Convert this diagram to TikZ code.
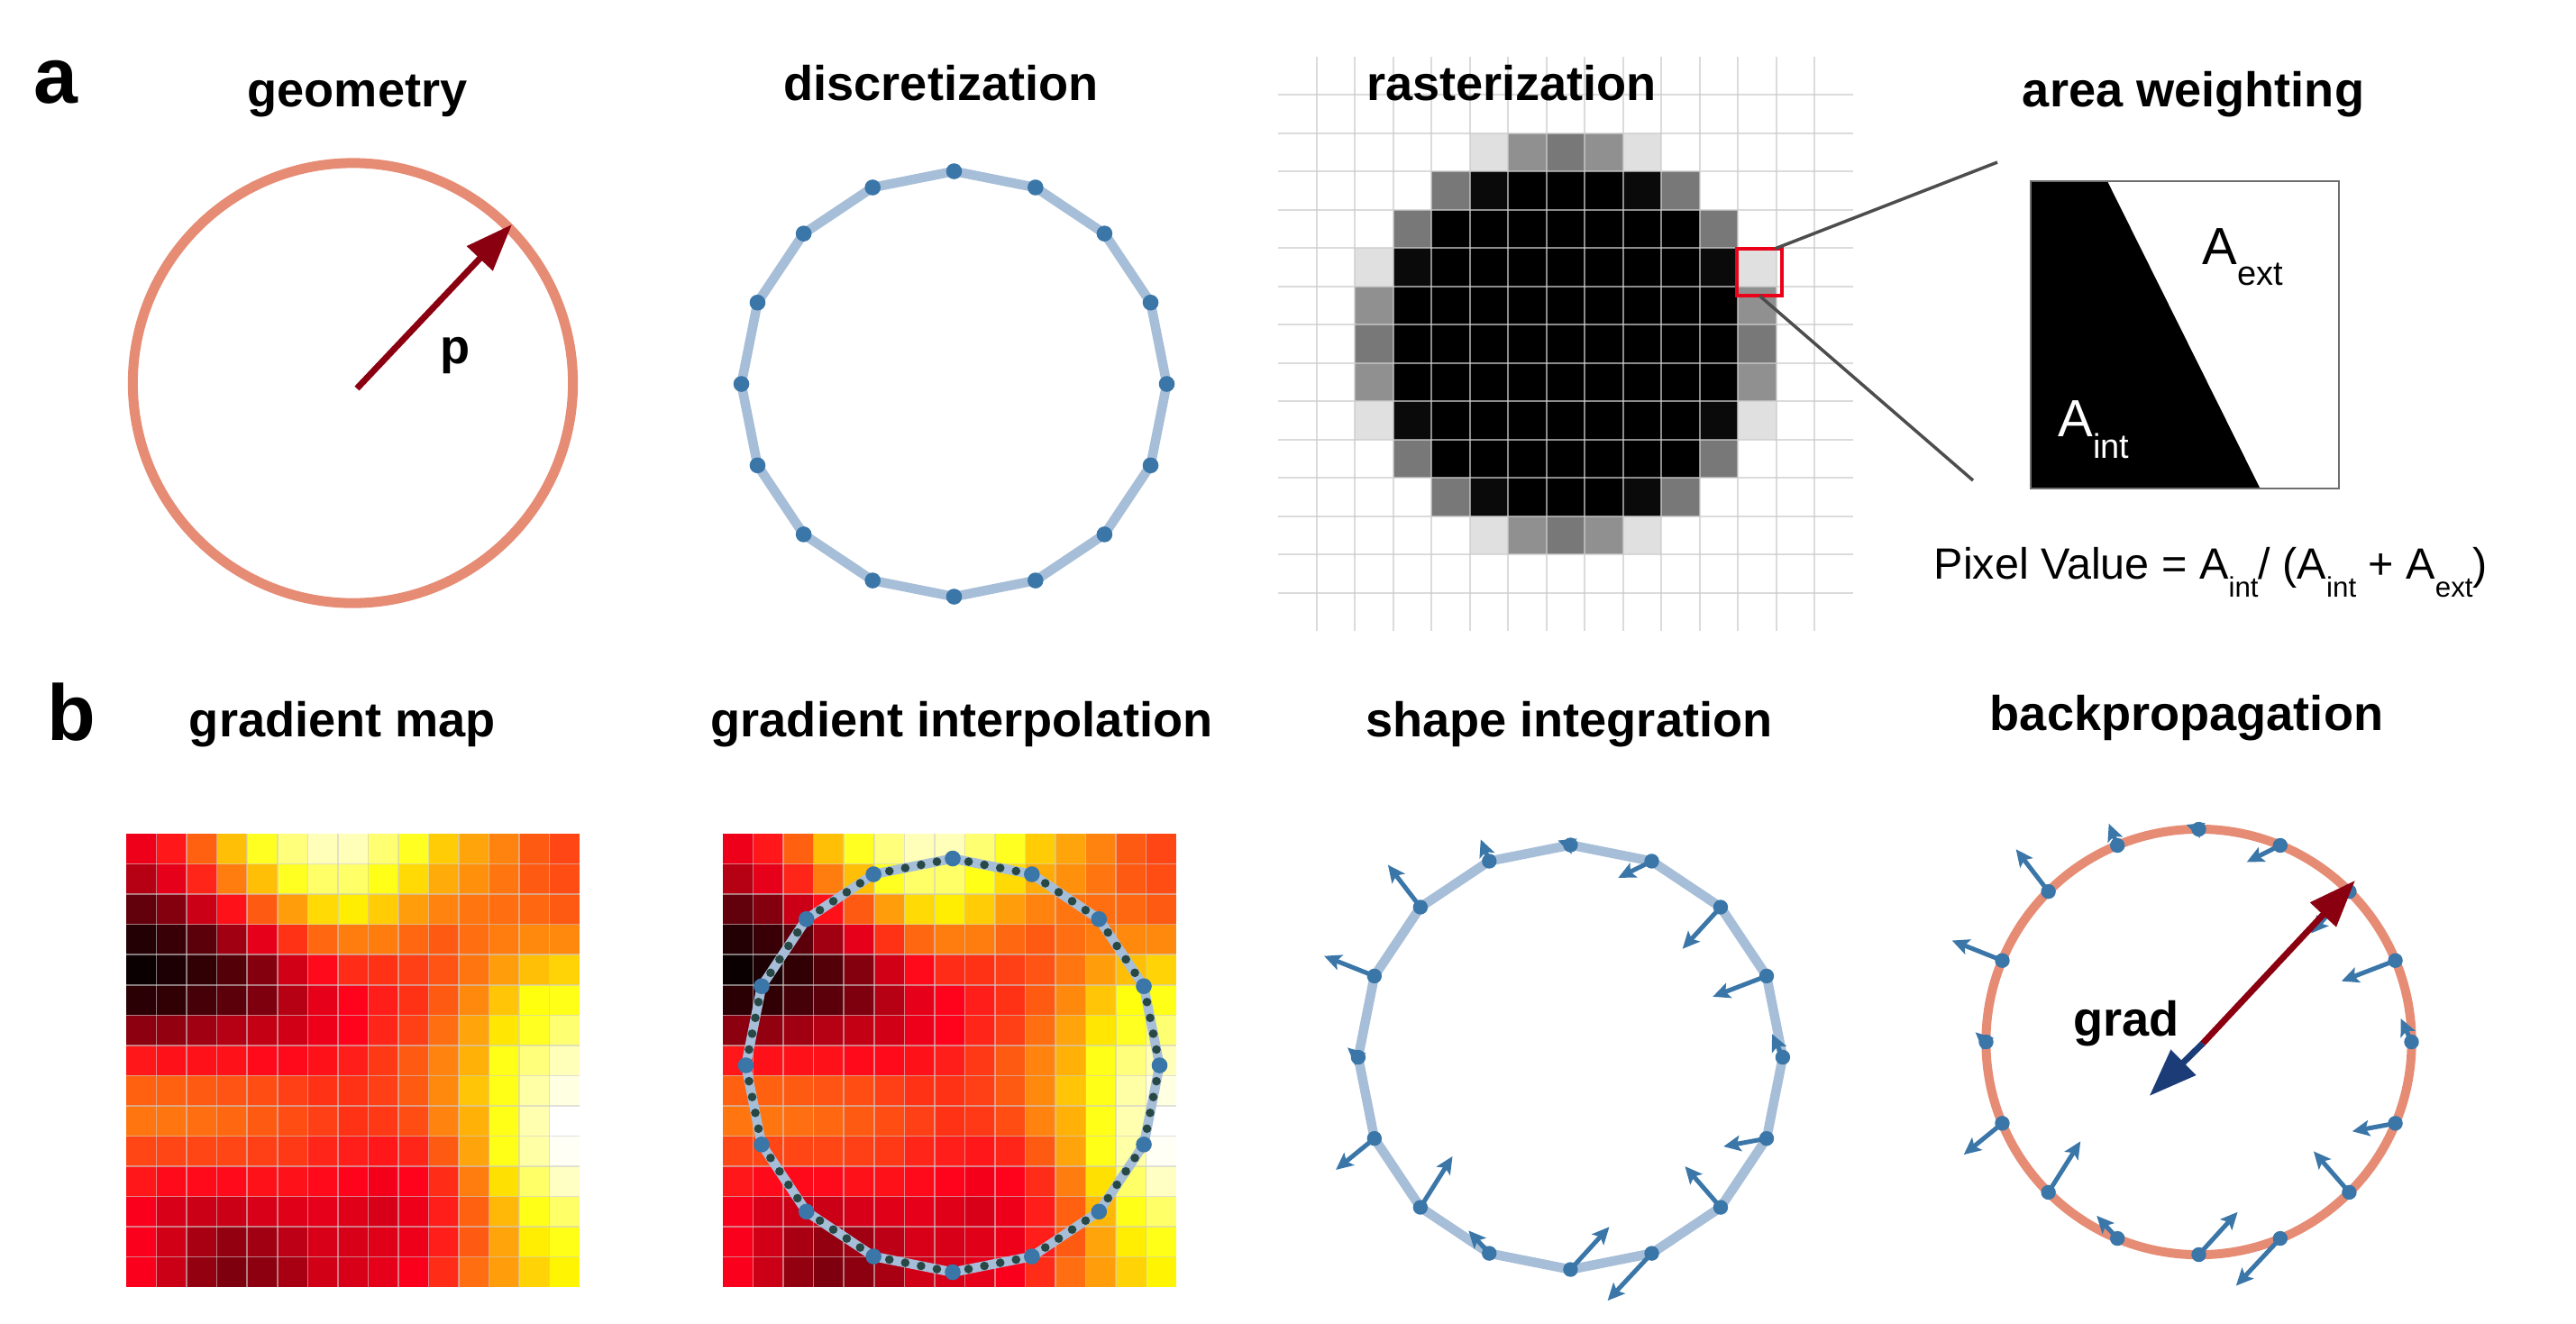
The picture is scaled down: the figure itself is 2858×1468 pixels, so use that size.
\documentclass[tikz,border=0pt]{standalone}
\usepackage{fontspec}
\setmainfont{Liberation Sans}
\usetikzlibrary{arrows.meta,calc}
\definecolor{salmon}{RGB}{230,140,117}
\definecolor{darkredc}{RGB}{139,0,16}
\definecolor{polyblue}{RGB}{167,190,216}
\definecolor{dotblue}{RGB}{58,118,168}
\definecolor{darkdot}{RGB}{40,72,70}
\definecolor{navyc}{RGB}{28,60,120}
\definecolor{zoomgray}{RGB}{77,77,77}
\definecolor{boxred}{RGB}{235,0,25}
\definecolor{gridc}{RGB}{204,204,204}
\definecolor{hmgridc}{RGB}{205,205,205}

\def\heatvals{%
0.34,0.40,0.51,0.65,0.78,0.87,0.93,0.93,0.86,0.78,0.67,0.61,0.56,0.50,0.47,%
0.26,0.33,0.42,0.55,0.65,0.78,0.85,0.85,0.77,0.69,0.62,0.58,0.54,0.50,0.48,%
0.14,0.19,0.29,0.39,0.50,0.60,0.69,0.72,0.67,0.60,0.56,0.54,0.53,0.52,0.50,%
0.05,0.08,0.13,0.23,0.33,0.44,0.52,0.55,0.55,0.52,0.50,0.53,0.55,0.57,0.57,%
0.015,0.04,0.07,0.12,0.19,0.30,0.38,0.43,0.44,0.46,0.49,0.54,0.60,0.65,0.68,%
0.06,0.07,0.10,0.13,0.18,0.26,0.33,0.37,0.41,0.44,0.50,0.57,0.66,0.76,0.77,%
0.20,0.21,0.23,0.26,0.28,0.30,0.34,0.37,0.42,0.46,0.53,0.61,0.71,0.78,0.86,%
0.40,0.39,0.39,0.39,0.38,0.38,0.39,0.41,0.45,0.50,0.56,0.63,0.77,0.87,0.93,%
0.51,0.51,0.50,0.49,0.48,0.46,0.44,0.44,0.46,0.50,0.57,0.66,0.77,0.91,0.97,%
0.54,0.54,0.53,0.52,0.50,0.48,0.46,0.44,0.45,0.48,0.56,0.63,0.77,0.92,1.00,%
0.47,0.47,0.47,0.47,0.46,0.45,0.42,0.41,0.40,0.42,0.50,0.61,0.77,0.91,0.99,%
0.40,0.38,0.38,0.38,0.39,0.39,0.38,0.37,0.35,0.37,0.43,0.55,0.70,0.85,0.94,%
0.36,0.31,0.29,0.29,0.31,0.32,0.33,0.32,0.31,0.34,0.41,0.51,0.64,0.77,0.85,%
0.36,0.30,0.24,0.21,0.23,0.27,0.31,0.31,0.32,0.34,0.41,0.50,0.61,0.72,0.77,%
0.36,0.29,0.21,0.18,0.20,0.24,0.30,0.31,0.33,0.36,0.43,0.53,0.60,0.68,0.73}

\def\arrvecs{-14/-5,-9.5/-24.1,-36/-46.9,-55.8/-22.2,-11.9/-10.7,-42.8/34.8,35.6/-56.6,-23/-25.2,43.1/-47.3,-49/52.5,-39.5/-45.5,-47.8/8.9,-11.9/-25.9,-59.7/22.9,-42.3/46.3,-37.2/18.5}

\newcommand\drawheatmap[2]{%
  \foreach \v [count=\i from 0] in \heatvals {%
    \pgfmathtruncatemacro\hmRow{floor(\i/15)}%
    \pgfmathtruncatemacro\hmCol{\i-15*\hmRow}%
    \pgfmathsetmacro\hmR{min(1,\v/0.365)}%
    \pgfmathsetmacro\hmG{max(0,min(1,(\v-0.365)/0.381))}%
    \pgfmathsetmacro\hmB{max(max(0,min(1,(\v-0.746)/0.254)),0.11*\hmR*(1-\hmG))}%
    \definecolor{hmc}{rgb}{\hmR,\hmG,\hmB}%
    \fill[hmc] ({#1+\hmCol*33.55},{#2+\hmRow*33.55}) rectangle ++(33.6,33.6);
  }
  \foreach \k in {1,...,14} {
    \draw[hmgrid] ({#1+\k*33.55},#2) -- ++(0,503.3);
    \draw[hmgrid] (#1,{#2+\k*33.55}) -- ++(503.3,0);
  }
}
\newcommand\fsub[1]{\raisebox{-0.2cm}{\fontsize{8.9pt}{10pt}\selectfont #1}}

\begin{document}
\begin{tikzpicture}[x=0.01cm,y=-0.01cm,
  title/.style={font=\fontsize{15.4pt}{18pt}\selectfont\bfseries, inner sep=0pt, anchor=base},
  plabel/.style={font=\fontsize{25pt}{30pt}\selectfont\bfseries, inner sep=0pt, anchor=base west},
  polyline/.style={draw=polyblue, line width=0.105cm, line join=round},
  ring/.style={draw=salmon},
  hmgrid/.style={draw=hmgridc, draw opacity=0.6, line width=0.015cm},
  rastergrid/.style={draw=gridc, draw opacity=0.69, line width=0.02cm},
  zoomline/.style={draw=zoomgray, line width=0.035cm},
  garrow/.style={draw=dotblue, line width=0.05cm, -{Stealth[length=0.19cm,width=0.175cm,inset=0.04cm]}},
  bigred/.style={draw=darkredc, line width=0.07cm, -{Triangle[length=0.52cm,width=0.38cm]}},
  bigblue/.style={draw=navyc, line width=0.07cm, -{Triangle[length=0.53cm,width=0.38cm]}}
]
\useasboundingbox (0,0) rectangle (2858,1468);
\fill[white] (0,0) rectangle (2858,1468);

% ---------------- panel a: geometry
\node[plabel] (la) at (37,114) {a};
\node[title] (tgeo) at (396.5,118) {geometry};
\coordinate (gc) at (391.5,425);
\draw[ring, line width=0.11cm] (gc) circle (2.44cm);
\coordinate (pO) at (396,431);
\coordinate (pT) at (568,249);
\draw[bigred] (pO) -- (pT);
\node[title] (plab) at (505,403) {p};

% ---------------- discretization
\node[title] (tdisc) at (1044,111) {discretization};
\foreach \k in {0,...,15}
  \coordinate (d\k) at ({1058.5+236*sin(22.5*\k)},{426-236*cos(22.5*\k)});
\draw[polyline] (d0) \foreach \k in {1,...,15}{ -- (d\k)} -- cycle;
\foreach \k in {0,...,15} \fill[dotblue] (d\k) circle (0.088cm);

% ---------------- rasterization
\fill[black] (1545.5,275) rectangle (1928,487.5);
\fill[black] (1588,232.5) rectangle (1885.5,530);
\fill[black] (1630.5,190) rectangle (1843,572.5);
\foreach \r/\c/\g in {2/5/.878,2/6/.565,2/7/.47,2/8/.565,2/9/.878,
  12/5/.878,12/6/.565,12/7/.47,12/8/.565,12/9/.878,
  3/4/.47,3/5/.04,3/9/.04,3/10/.47,11/4/.47,11/5/.04,11/9/.04,11/10/.47,
  4/3/.47,4/11/.47,10/3/.47,10/11/.47,
  5/2/.878,5/3/.04,5/11/.04,5/12/.878,9/2/.878,9/3/.04,9/11/.04,9/12/.878,
  6/2/.565,6/12/.565,8/2/.565,8/12/.565,7/2/.47,7/12/.47} {
  \definecolor{rc}{gray}{\g}
  \fill[rc] ({1418+\c*42.5},{62.5+\r*42.5}) rectangle ++(42.5,42.5);
}
\foreach \k in {1,...,14} {
  \draw[rastergrid] ({1418+\k*42.5},62.5) -- ({1418+\k*42.5},700);
  \draw[rastergrid] (1418,{62.5+\k*42.5}) -- (2055.5,{62.5+\k*42.5});
}
\node[title] (trast) at (1677,111) {rasterization};
\node[draw=boxred, line width=0.045cm, minimum width=0.5cm, minimum height=0.52cm, inner sep=0pt] (redbox) at (1952,302) {};
\coordinate (rbA) at (1969,276);
\coordinate (rbB) at (1952,328);
\coordinate (zA) at (2216,180);
\coordinate (zB) at (2189,533);
\draw[zoomline] (rbA) -- (zA);
\draw[zoomline] (rbB) -- (zB);

% ---------------- area weighting
\node[title] (tarea) at (2433.5,118) {area weighting};
\fill[black] (2253,201) -- (2338,201) -- (2507.5,542) -- (2253,542) -- cycle;
\node[draw={rgb,255:red,110;green,110;blue,110}, line width=0.015cm, minimum width=3.42cm, minimum height=3.41cm, inner sep=0pt] (abox) at (2424,371.5) {};
\node[anchor=base west, inner sep=0pt, font=\fontsize{16.5pt}{20pt}\selectfont] (aext) at (2443,293)
  {A\raisebox{-0.236cm}{\fontsize{10.8pt}{13pt}\selectfont ext}};
\node[anchor=base west, inner sep=0pt, text=white, font=\fontsize{16.5pt}{20pt}\selectfont] (aint) at (2283,484.4)
  {A\raisebox{-0.24cm}{\fontsize{10.8pt}{13pt}\selectfont int}};
\node[anchor=base west, inner sep=0pt, font=\fontsize{13.8pt}{16pt}\selectfont] (formula) at (2145,642.2)
  {Pixel Value = A\fsub{int}/ (A\fsub{int} + A\fsub{ext})};

% ---------------- panel b
\node[plabel] (lb) at (52,821) {b};
\node[title] (tgmap) at (380,817) {gradient map};
\node[title] (tgint) at (1067,817) {gradient interpolation};
\node[title] (tshape) at (1740.7,817) {shape integration};
\node[title] (tback) at (2426,810.6) {backpropagation};

% gradient map
\drawheatmap{140}{925}

% gradient interpolation
\drawheatmap{802}{925}
\foreach \k in {0,...,15}
  \coordinate (i\k) at ({1057+229.5*sin(22.5*\k)},{1182-229.5*cos(22.5*\k)});
\draw[polyline] (i0) \foreach \k in {1,...,15}{ -- (i\k)} -- cycle;
\foreach \k in {0,...,15} {
  \pgfmathtruncatemacro\kn{mod(\k+1,16)}
  \foreach \t in {0.2,0.4,0.6,0.8}
    \fill[darkdot] ($(i\k)!\t!(i\kn)$) circle (0.048cm);
}
\foreach \k in {0,...,15} \fill[dotblue] (i\k) circle (0.088cm);

% shape integration
\foreach \k in {0,...,15}
  \coordinate (s\k) at ({1742.4-235.5*sin(22.5*\k)},{1173-235.5*cos(22.5*\k)});
\draw[polyline] (s0) \foreach \k in {1,...,15}{ -- (s\k)} -- cycle;
\foreach \dx/\dy [count=\k from 0] in \arrvecs {
  \path (s\k) ++(\dx,\dy) coordinate (st\k);
  \draw[garrow] (s\k) -- (st\k);
}
\foreach \k in {0,...,15} \fill[dotblue] (s\k) circle (0.082cm);

% backpropagation
\coordinate (bc) at (2439.5,1156);
\draw[ring, line width=0.1cm] (bc) circle (2.36cm);
\foreach \k in {0,...,15}
  \coordinate (b\k) at ({2439.5-236*sin(22.5*\k)},{1156-236*cos(22.5*\k)});
\foreach \dx/\dy [count=\k from 0] in \arrvecs {
  \path (b\k) ++(\dx,\dy) coordinate (bt\k);
  \draw[garrow] (b\k) -- (bt\k);
}
\foreach \k in {0,...,15} \fill[dotblue] (b\k) circle (0.082cm);
\coordinate (bs) at (2444,1157.5);
\coordinate (bredtip) at (2612.9,976.9);
\coordinate (bbluetip) at (2384.7,1215.9);
\draw[bigblue] (bs) -- (bbluetip);
\draw[bigred] (bs) -- (bredtip);
\node[title] (grad) at (2359,1149) {grad};
\end{tikzpicture}
\end{document}
